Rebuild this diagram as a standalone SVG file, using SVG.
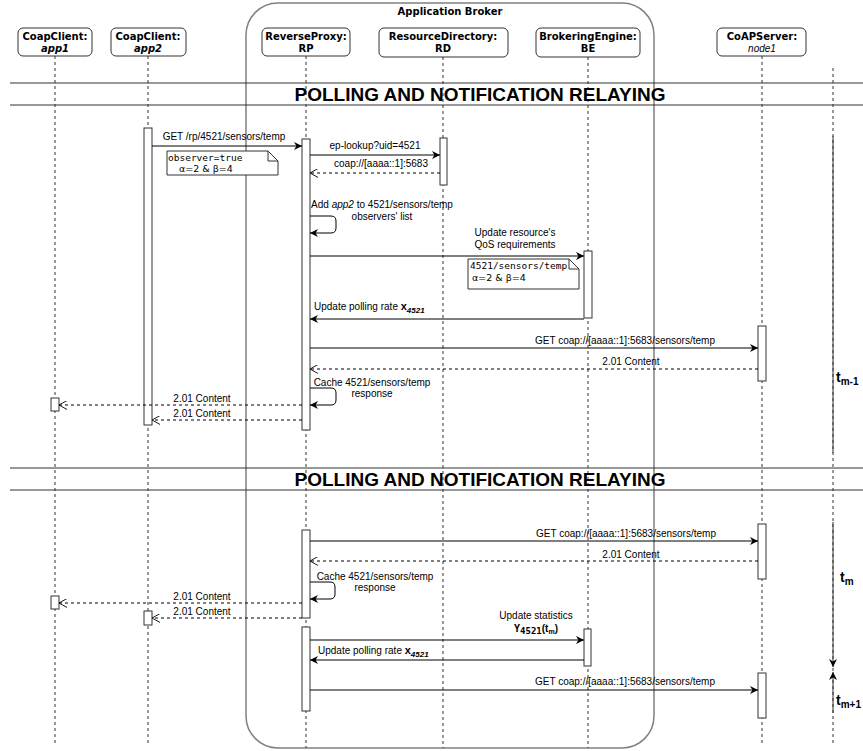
<svg xmlns="http://www.w3.org/2000/svg" width="863" height="751" viewBox="0 0 863 751">
<defs>
<marker id="block" viewBox="0 0 10 10" refX="10" refY="5" markerWidth="8" markerHeight="8" markerUnits="userSpaceOnUse" orient="auto">
<path d="M0,0 L10,5 L0,10 L3,5 Z" fill="#000"/>
</marker>
<marker id="open" viewBox="0 0 10 10" refX="9" refY="5" markerWidth="9" markerHeight="9" markerUnits="userSpaceOnUse" orient="auto">
<path d="M0,0 L9,5 L0,10" fill="none" stroke="#000" stroke-width="1"/>
</marker>
</defs>
<style>
.box{fill:#fff;stroke:#333;stroke-width:1}
.plabel{font-family:"DejaVu Sans",sans-serif;font-size:10px;font-weight:bold;fill:#000;text-anchor:middle}
.life{stroke:#333;stroke-width:1;stroke-dasharray:3 3;fill:none}
.act{fill:#fff;stroke:#333;stroke-width:1}
.msg{stroke:#000;stroke-width:1;fill:none;marker-end:url(#block)}
.ret{stroke:#000;stroke-width:1;fill:none;stroke-dasharray:3 3;marker-end:url(#open)}
.lbl{font-family:"Liberation Sans",Arial,sans-serif;font-size:10px;fill:#000;text-anchor:middle}
.lbls{font-family:"Liberation Sans",Arial,sans-serif;font-size:10px;fill:#000;text-anchor:start}
.band{stroke:#333;stroke-width:1}
.title{font-family:"Liberation Sans",Arial,sans-serif;font-size:19px;font-weight:bold;fill:#000;text-anchor:middle}
.note{fill:#fff;stroke:#333;stroke-width:1}
.mono{font-family:"DejaVu Sans Mono",monospace;font-size:9.5px;fill:#000}
.greek{font-family:"DejaVu Sans",sans-serif;font-size:9.5px;fill:#000}
.tl{font-family:"Liberation Sans",Arial,sans-serif;font-weight:bold;fill:#000}
</style>

<g id="application-broker">
<rect x="246" y="3" width="408" height="745" rx="32" ry="32" fill="none" stroke="#808080" stroke-width="1.5"/>
<text x="450" y="15" class="plabel">Application Broker</text>
</g>

<g id="lifelines">
<line class="life" x1="55" y1="56" x2="55" y2="745"/>
<line class="life" x1="148" y1="56" x2="148" y2="745"/>
<line class="life" x1="306" y1="56" x2="306" y2="748"/>
<line class="life" x1="443" y1="57" x2="443" y2="748"/>
<line class="life" x1="588" y1="57" x2="588" y2="748"/>
<line class="life" x1="762" y1="56" x2="762" y2="745"/>
<line class="life" x1="833" y1="68" x2="833" y2="745"/>
</g>

<g id="bands">
<line class="band" x1="10" y1="83" x2="863" y2="83"/>
<line class="band" x1="10" y1="105" x2="863" y2="105"/>
<text class="title" x="480" y="101">POLLING AND NOTIFICATION RELAYING</text>
<line class="band" x1="10" y1="468" x2="863" y2="468"/>
<line class="band" x1="10" y1="490" x2="863" y2="490"/>
<text class="title" x="480" y="486">POLLING AND NOTIFICATION RELAYING</text>
</g>

<g id="app1">
<rect class="box" x="18" y="28" width="74" height="28" rx="5"/>
<text class="plabel" x="55" y="40">CoapClient:</text>
<text class="plabel" x="55" y="52" font-style="italic">app1</text>
</g>
<g id="app2">
<rect class="box" x="111" y="28" width="75" height="28" rx="5"/>
<text class="plabel" x="148" y="40">CoapClient:</text>
<text class="plabel" x="148" y="52" font-style="italic">app2</text>
</g>
<g id="rp">
<rect class="box" x="262" y="28" width="88" height="28" rx="5"/>
<text class="plabel" x="306" y="40">ReverseProxy:</text>
<text class="plabel" x="306" y="52">RP</text>
</g>
<g id="rd">
<rect class="box" x="379" y="28" width="129" height="29" rx="5"/>
<text class="plabel" x="443" y="40">ResourceDirectory:</text>
<text class="plabel" x="443" y="52">RD</text>
</g>
<g id="be">
<rect class="box" x="536" y="28" width="104" height="29" rx="5"/>
<text class="plabel" x="588" y="40">BrokeringEngine:</text>
<text class="plabel" x="588" y="52">BE</text>
</g>
<g id="server">
<rect class="box" x="717" y="28" width="89" height="28" rx="5"/>
<text class="plabel" x="762" y="40">CoAPServer:</text>
<text x="762" y="52" font-family="Liberation Sans, Arial, sans-serif" font-size="10" font-style="italic" text-anchor="middle">node1</text>
</g>

<g id="activations">
<rect class="act" x="144" y="128" width="8" height="297"/>
<rect class="act" x="302" y="139" width="8" height="291"/>
<rect class="act" x="440" y="138" width="7" height="47"/>
<rect class="act" x="584" y="251" width="8" height="67"/>
<rect class="act" x="758" y="326" width="8" height="55"/>
<rect class="act" x="51" y="398" width="8" height="13"/>
<rect class="act" x="302" y="530" width="8" height="88"/>
<rect class="act" x="758" y="524" width="8" height="55"/>
<rect class="act" x="51" y="596" width="8" height="13"/>
<rect class="act" x="144" y="611" width="8" height="14"/>
<rect class="act" x="302" y="627" width="8" height="84"/>
<rect class="act" x="584" y="629" width="7" height="37"/>
<rect class="act" x="758" y="673" width="8" height="45"/>
</g>

<g id="notes">
<path class="note" d="M167,151 H268 L278,161 V175 H167 Z"/>
<path d="M268,151 V161 H278" fill="none" stroke="#333"/>
<text class="mono" x="168" y="161">observer=true</text>
<text class="greek" x="179" y="172">α=2 &amp; β=4</text>
<path class="note" d="M468,259 H569 L579,269 V289 H468 Z"/>
<path d="M569,259 V269 H579" fill="none" stroke="#333"/>
<text class="mono" x="470" y="269">4521/sensors/temp</text>
<text class="greek" x="472" y="281">α=2 &amp; β=4</text>
</g>

<g id="connectors">
<line class="msg" x1="152" y1="146" x2="302" y2="146"/>
<text class="lbl" x="224" y="140">GET /rp/4521/sensors/temp</text>
<line class="msg" x1="310" y1="155" x2="440" y2="155"/>
<text class="lbl" x="375" y="149">ep-lookup?uid=4521</text>
<line class="ret" x1="440" y1="173" x2="310" y2="173"/>
<text class="lbl" x="381" y="167">coap://[aaaa::1]:5683</text>
<path class="msg" d="M310,216 H331 Q336,216 336,221 V228 Q336,233 331,233 H310"/>
<text class="lbl" x="382" y="208">Add <tspan font-style="italic">app2</tspan> to 4521/sensors/temp</text>
<text class="lbl" x="382" y="220">observers' list</text>
<line class="msg" x1="310" y1="256" x2="584" y2="256"/>
<text class="lbl" x="515" y="236">Update resource's</text>
<text class="lbl" x="515" y="248">QoS requirements</text>
<line class="msg" x1="584" y1="319" x2="310" y2="319"/>
<text class="lbls" x="314" y="310">Update polling rate <tspan font-weight="bold" font-size="11">x</tspan><tspan font-weight="bold" font-style="italic" font-size="8" dy="3">4521</tspan></text>
<line class="msg" x1="310" y1="348" x2="758" y2="348"/>
<text class="lbl" x="625" y="344">GET coap://[aaaa::1]:5683/sensors/temp</text>
<line class="ret" x1="758" y1="369" x2="310" y2="369"/>
<text class="lbl" x="631" y="365">2.01 Content</text>
<path class="msg" d="M310,388 H331 Q336,388 336,393 V400 Q336,405 331,405 H310"/>
<text class="lbl" x="372" y="386">Cache 4521/sensors/temp</text>
<text class="lbl" x="372" y="397">response</text>
<line class="ret" x1="302" y1="405" x2="59" y2="405"/>
<text class="lbl" x="202" y="402">2.01 Content</text>
<line class="ret" x1="302" y1="420" x2="152" y2="420"/>
<text class="lbl" x="202" y="417">2.01 Content</text>

<line class="msg" x1="310" y1="541" x2="758" y2="541"/>
<text class="lbl" x="626" y="537">GET coap://[aaaa::1]:5683/sensors/temp</text>
<line class="ret" x1="758" y1="561" x2="310" y2="561"/>
<text class="lbl" x="631" y="558">2.01 Content</text>
<path class="msg" d="M310,582 H330 Q335,582 335,587 V594 Q335,599 330,599 H310"/>
<text class="lbl" x="375" y="580">Cache 4521/sensors/temp</text>
<text class="lbl" x="375" y="591">response</text>
<line class="ret" x1="302" y1="603" x2="59" y2="603"/>
<text class="lbl" x="202" y="600">2.01 Content</text>
<line class="ret" x1="302" y1="618" x2="152" y2="618"/>
<text class="lbl" x="202" y="615">2.01 Content</text>

<line class="msg" x1="310" y1="640" x2="584" y2="640"/>
<text class="lbl" x="536" y="619">Update statistics</text>
<text x="536" y="632" text-anchor="middle" font-family="DejaVu Sans Mono, monospace" font-weight="bold" font-size="10">Y<tspan font-size="9" dy="2">4521</tspan><tspan dy="-2" font-family="Liberation Sans, Arial, sans-serif">(t</tspan><tspan font-family="Liberation Sans, Arial, sans-serif" font-size="7" dy="2">m</tspan><tspan dy="-2" font-family="Liberation Sans, Arial, sans-serif">)</tspan></text>
<line class="msg" x1="584" y1="660" x2="310" y2="660"/>
<text class="lbls" x="318" y="654">Update polling rate <tspan font-weight="bold" font-size="11">x</tspan><tspan font-weight="bold" font-style="italic" font-size="8" dy="3">4521</tspan></text>
<line class="msg" x1="310" y1="690" x2="758" y2="690"/>
<text class="lbl" x="625" y="685">GET coap://[aaaa::1]:5683/sensors/temp</text>
</g>

<g id="timeline">
<line x1="833" y1="136" x2="833" y2="453" stroke="#333" stroke-width="1"/>
<text class="tl" x="836" y="382" font-size="14">t<tspan font-size="10" dy="3">m-1</tspan></text>
<line x1="833" y1="522" x2="833" y2="667" stroke="#333" stroke-width="1" marker-end="url(#block)"/>
<text class="tl" x="840" y="582" font-size="14">t<tspan font-size="10" dy="3">m</tspan></text>
<line x1="833" y1="713" x2="833" y2="672" stroke="#333" stroke-width="1" marker-end="url(#block)"/>
<text class="tl" x="836" y="705" font-size="14">t<tspan font-size="10" dy="3">m+1</tspan></text>
</g>
</svg>
